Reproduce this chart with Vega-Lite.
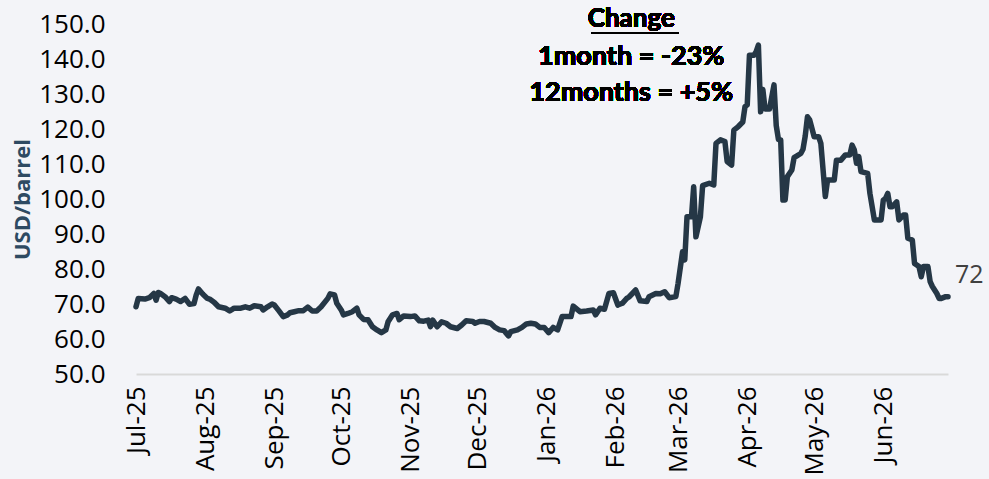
{
  "$schema": "https://vega.github.io/schema/vega-lite/v6.json",
  "autosize": {"type": "none"},
  "width": 812,
  "height": 350,
  "padding": {"left": 136, "top": 24, "right": 41, "bottom": 105},
  "background": "#f3f4f8",
  "config": {"view": {"stroke": null}, "font": "Open Sans"},
  "data": {"values": [
    {"date":"2025-07-01","v":69.2},{"date":"2025-07-02","v":71.6},{"date":"2025-07-05","v":71.4},{"date":"2025-07-07","v":71.8},{"date":"2025-07-09","v":73.0},{"date":"2025-07-10","v":71.1},{"date":"2025-07-11","v":73.3},{"date":"2025-07-12","v":73.0},{"date":"2025-07-14","v":72.1},{"date":"2025-07-16","v":70.7},{"date":"2025-07-17","v":71.8},{"date":"2025-07-19","v":71.4},{"date":"2025-07-21","v":70.7},{"date":"2025-07-23","v":71.6},{"date":"2025-07-25","v":69.9},{"date":"2025-07-27","v":70.1},{"date":"2025-07-28","v":72.6},{"date":"2025-07-29","v":74.3},{"date":"2025-07-31","v":72.8},
    {"date":"2025-08-02","v":71.6},{"date":"2025-08-03","v":71.4},{"date":"2025-08-05","v":70.5},{"date":"2025-08-07","v":69.2},{"date":"2025-08-10","v":68.8},{"date":"2025-08-12","v":68.0},{"date":"2025-08-14","v":68.8},{"date":"2025-08-17","v":68.8},{"date":"2025-08-19","v":69.2},{"date":"2025-08-21","v":68.8},{"date":"2025-08-23","v":69.5},{"date":"2025-08-26","v":69.2},{"date":"2025-08-27","v":68.3},{"date":"2025-08-29","v":69.2},{"date":"2025-08-31","v":70.0},
    {"date":"2025-09-01","v":69.7},{"date":"2025-09-03","v":68.1},{"date":"2025-09-05","v":66.4},{"date":"2025-09-07","v":66.9},{"date":"2025-09-08","v":67.5},{"date":"2025-09-10","v":67.8},{"date":"2025-09-12","v":68.1},{"date":"2025-09-14","v":68.1},{"date":"2025-09-16","v":69.1},{"date":"2025-09-18","v":68.0},{"date":"2025-09-20","v":68.0},{"date":"2025-09-22","v":69.2},{"date":"2025-09-25","v":71.6},{"date":"2025-09-26","v":72.9},{"date":"2025-09-28","v":72.6},{"date":"2025-09-29","v":70.2},
    {"date":"2025-10-01","v":68.3},{"date":"2025-10-02","v":66.9},{"date":"2025-10-04","v":67.3},{"date":"2025-10-06","v":67.8},{"date":"2025-10-08","v":68.8},{"date":"2025-10-09","v":66.9},{"date":"2025-10-11","v":65.6},{"date":"2025-10-13","v":65.5},{"date":"2025-10-15","v":63.5},{"date":"2025-10-17","v":62.6},{"date":"2025-10-19","v":61.8},{"date":"2025-10-21","v":62.6},{"date":"2025-10-22","v":64.9},{"date":"2025-10-24","v":66.9},{"date":"2025-10-26","v":67.3},{"date":"2025-10-27","v":65.5},{"date":"2025-10-29","v":66.6},
    {"date":"2025-11-01","v":66.4},{"date":"2025-11-03","v":66.6},{"date":"2025-11-05","v":65.2},{"date":"2025-11-07","v":65.1},{"date":"2025-11-09","v":65.4},{"date":"2025-11-10","v":63.5},{"date":"2025-11-11","v":65.4},{"date":"2025-11-13","v":63.5},{"date":"2025-11-15","v":64.9},{"date":"2025-11-17","v":64.5},{"date":"2025-11-19","v":63.5},{"date":"2025-11-22","v":63.0},{"date":"2025-11-24","v":64.0},{"date":"2025-11-26","v":65.2},{"date":"2025-11-29","v":65.0},{"date":"2025-11-30","v":64.5},
    {"date":"2025-12-02","v":65.0},{"date":"2025-12-04","v":65.0},{"date":"2025-12-07","v":64.5},{"date":"2025-12-09","v":63.3},{"date":"2025-12-11","v":62.6},{"date":"2025-12-13","v":62.4},{"date":"2025-12-15","v":60.9},{"date":"2025-12-16","v":62.1},{"date":"2025-12-19","v":62.6},{"date":"2025-12-21","v":63.3},{"date":"2025-12-23","v":64.3},{"date":"2025-12-25","v":64.5},{"date":"2025-12-27","v":64.3},{"date":"2025-12-29","v":63.3},{"date":"2025-12-31","v":63.3},
    {"date":"2026-01-02","v":61.8},{"date":"2026-01-04","v":63.3},{"date":"2026-01-06","v":62.6},{"date":"2026-01-08","v":66.4},{"date":"2026-01-12","v":66.4},{"date":"2026-01-13","v":69.4},{"date":"2026-01-16","v":67.8},{"date":"2026-01-19","v":68.0},{"date":"2026-01-22","v":68.3},{"date":"2026-01-23","v":66.9},{"date":"2026-01-25","v":68.8},{"date":"2026-01-27","v":68.5},{"date":"2026-01-29","v":73.0},{"date":"2026-01-31","v":73.2},
    {"date":"2026-02-02","v":69.7},{"date":"2026-02-04","v":70.2},{"date":"2026-02-06","v":71.6},{"date":"2026-02-07","v":72.0},{"date":"2026-02-10","v":74.0},{"date":"2026-02-12","v":70.9},{"date":"2026-02-15","v":70.7},{"date":"2026-02-16","v":72.1},{"date":"2026-02-19","v":73.0},{"date":"2026-02-21","v":72.9},{"date":"2026-02-23","v":73.5},{"date":"2026-02-25","v":71.8},{"date":"2026-02-28","v":72.1},
    {"date":"2026-03-01","v":75.9},{"date":"2026-03-03","v":84.9},{"date":"2026-03-04","v":82.6},{"date":"2026-03-05","v":94.9},{"date":"2026-03-07","v":94.9},{"date":"2026-03-08","v":103.5},{"date":"2026-03-09","v":89.2},{"date":"2026-03-11","v":94.9},{"date":"2026-03-12","v":103.8},{"date":"2026-03-15","v":104.5},{"date":"2026-03-17","v":104.0},{"date":"2026-03-18","v":115.9},{"date":"2026-03-20","v":116.9},{"date":"2026-03-22","v":116.4},{"date":"2026-03-23","v":110.7},{"date":"2026-03-25","v":109.7},{"date":"2026-03-26","v":119.7},{"date":"2026-03-28","v":120.7},{"date":"2026-03-30","v":122.0},{"date":"2026-03-31","v":126.4},
    {"date":"2026-04-01","v":126.9},{"date":"2026-04-02","v":141.1},{"date":"2026-04-04","v":141.1},{"date":"2026-04-05","v":142.1},{"date":"2026-04-06","v":144.0},{"date":"2026-04-07","v":124.9},{"date":"2026-04-08","v":131.3},{"date":"2026-04-09","v":125.7},{"date":"2026-04-11","v":125.7},{"date":"2026-04-13","v":132.6},{"date":"2026-04-14","v":121.0},{"date":"2026-04-15","v":117.0},{"date":"2026-04-16","v":116.9},{"date":"2026-04-17","v":99.7},{"date":"2026-04-18","v":99.7},{"date":"2026-04-19","v":106.4},{"date":"2026-04-21","v":108.3},{"date":"2026-04-22","v":111.8},{"date":"2026-04-25","v":113.0},{"date":"2026-04-26","v":114.2},{"date":"2026-04-27","v":118.0},{"date":"2026-04-28","v":123.5},{"date":"2026-04-29","v":122.6},
    {"date":"2026-05-01","v":117.8},{"date":"2026-05-03","v":117.8},{"date":"2026-05-04","v":115.9},{"date":"2026-05-06","v":100.7},{"date":"2026-05-07","v":105.4},{"date":"2026-05-10","v":105.4},{"date":"2026-05-11","v":111.1},{"date":"2026-05-13","v":111.1},{"date":"2026-05-15","v":112.6},{"date":"2026-05-17","v":112.6},{"date":"2026-05-18","v":115.4},{"date":"2026-05-19","v":114.0},{"date":"2026-05-20","v":110.2},{"date":"2026-05-21","v":112.1},{"date":"2026-05-22","v":107.8},{"date":"2026-05-25","v":107.3},{"date":"2026-05-26","v":101.6},{"date":"2026-05-28","v":94.0},{"date":"2026-05-31","v":94.0},
    {"date":"2026-06-01","v":99.7},{"date":"2026-06-02","v":100.2},{"date":"2026-06-03","v":101.6},{"date":"2026-06-04","v":97.8},{"date":"2026-06-05","v":97.8},{"date":"2026-06-07","v":99.2},{"date":"2026-06-08","v":94.0},{"date":"2026-06-10","v":95.4},{"date":"2026-06-11","v":95.4},{"date":"2026-06-12","v":88.8},{"date":"2026-06-14","v":88.3},{"date":"2026-06-15","v":81.6},{"date":"2026-06-17","v":80.7},{"date":"2026-06-18","v":77.8},{"date":"2026-06-19","v":80.7},{"date":"2026-06-21","v":80.7},{"date":"2026-06-22","v":76.4},{"date":"2026-06-23","v":75.0},{"date":"2026-06-25","v":73.0},{"date":"2026-06-26","v":71.6},{"date":"2026-06-27","v":71.6},{"date":"2026-06-29","v":72.1},{"date":"2026-06-30","v":72.1}
  ]},
  "encoding": {
    "x": {"field": "date", "type": "temporal",
      "scale": {"type": "utc", "domain": [{"year": 2025, "month": 7, "date": 1, "utc": true}, {"year": 2026, "month": 6, "date": 30, "utc": true}], "nice": false},
      "axis": {"title": null, "format": "%b-%y", "tickCount": {"interval": "month", "step": 1}, "labelAngle": -90, "labelFontSize": 26, "labelColor": "#000000", "labelPadding": 12, "ticks": false, "tickSize": 0, "grid": false, "domainColor": "#d9d9d9", "domainWidth": 2, "labelFont": "Open Sans", "labelOverlap": false, "labelFlush": false}},
    "y": {"field": "v", "type": "quantitative",
      "scale": {"domain": [50, 150], "nice": false, "zero": false},
      "axis": {"title": "USD/barrel", "format": ".1f", "values": [50,60,70,80,90,100,110,120,130,140,150], "labelFontSize": 26, "labelColor": "#000000", "labelPadding": 31, "ticks": false, "tickSize": 0, "domain": false, "grid": false, "labelFont": "Open Sans",
        "titleFont": "Open Sans", "titleFontSize": 22, "titleFontWeight": "bold", "titleColor": "#2e4a62", "titleX": -114, "titleY": 175, "titleAngle": -90, "titleAlign": "center", "titleBaseline": "middle"}}
  },
  "layer": [
    {"mark": {"type": "line", "color": "#253746", "strokeWidth": 5.5, "strokeJoin": "round", "strokeCap": "round"}},
    {"transform": [{"filter": {"field": "date", "equal": {"year": 2026, "month": 6, "date": 30, "utc": true}}}],
     "mark": {"type": "text", "align": "left", "baseline": "middle", "dx": 7, "dy": -22, "fontSize": 25, "font": "Open Sans", "color": "#404040"},
     "encoding": {"text": {"field": "v", "type": "quantitative", "format": ".0f"}}},
    {"mark": {"type": "text", "align": "center", "baseline": "middle", "fontSize": 26, "font": "Lato", "fontWeight": "bold", "color": "#000000", "text": "Change"},
     "encoding": {"x": {"datum": {"year": 2026, "month": 2, "date": 8, "utc": true}, "type": "temporal"}, "y": {"datum": 151.4, "type": "quantitative"}}},
    {"mark": {"type": "rule", "color": "#000000", "strokeWidth": 2},
     "encoding": {"x": {"datum": {"year": 2026, "month": 1, "date": 21, "utc": true}, "type": "temporal"}, "x2": {"datum": {"year": 2026, "month": 3, "date": 1, "utc": true}}, "y": {"datum": 147.4, "type": "quantitative"}}},
    {"mark": {"type": "text", "align": "center", "baseline": "middle", "fontSize": 27, "font": "Lato", "fontWeight": "bold", "color": "#000000", "text": "1month = -23%"},
     "encoding": {"x": {"datum": {"year": 2026, "month": 2, "date": 8, "utc": true}, "type": "temporal"}, "y": {"datum": 140.6, "type": "quantitative"}}},
    {"mark": {"type": "text", "align": "center", "baseline": "middle", "fontSize": 27, "font": "Lato", "fontWeight": "bold", "color": "#000000", "text": "12months = +5%"},
     "encoding": {"x": {"datum": {"year": 2026, "month": 2, "date": 8, "utc": true}, "type": "temporal"}, "y": {"datum": 130.3, "type": "quantitative"}}}
  ]
}
